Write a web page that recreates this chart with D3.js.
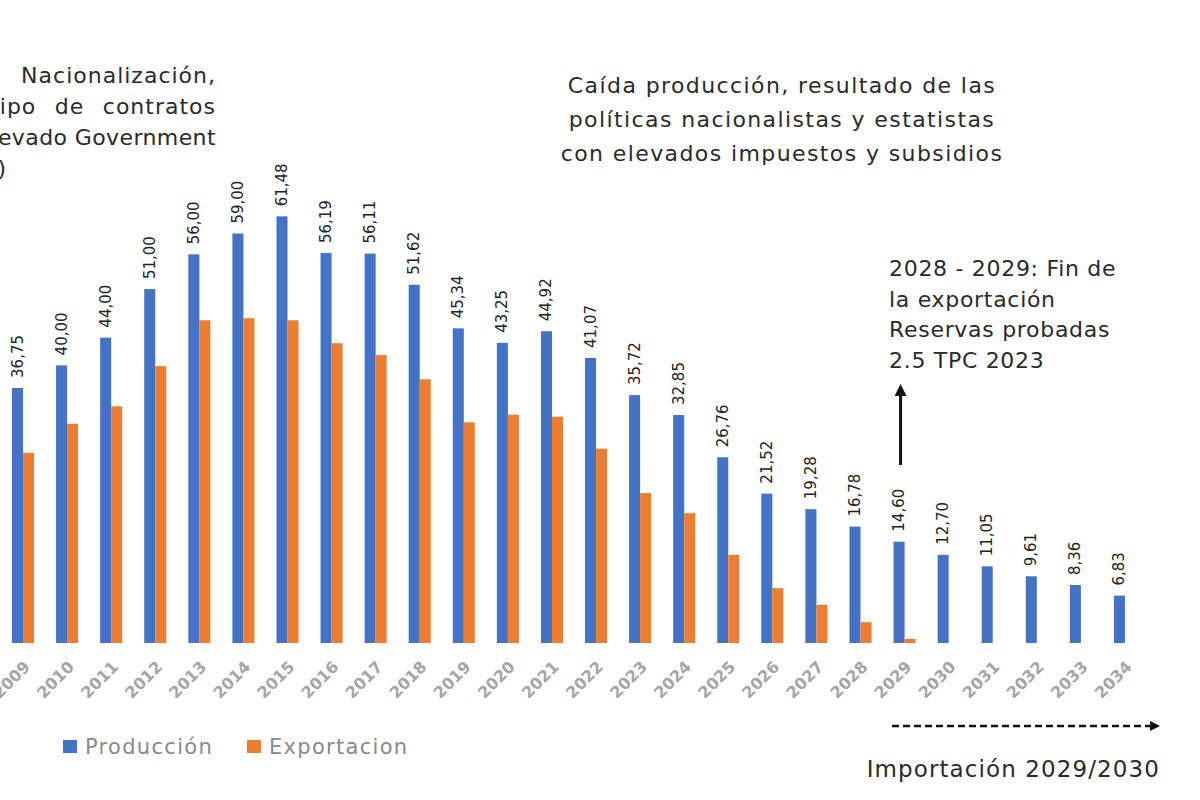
<!DOCTYPE html>
<html>
<head>
<meta charset="utf-8">
<script src="https://cdn.jsdelivr.net/npm/d3@7"></script>
<style>
  html, body { margin: 0; padding: 0; background: #fff; }
  svg { display: block; }
</style>
</head>
<body>
<svg id="chart" width="1200" height="800"></svg>
<script>
const years = ["2009","2010","2011","2012","2013","2014","2015","2016","2017","2018","2019","2020","2021","2022","2023","2024","2025","2026","2027","2028","2029","2030","2031","2032","2033","2034"];
const produccion = [36.75,40.00,44.00,51.00,56.00,59.00,61.48,56.19,56.11,51.62,45.34,43.25,44.92,41.07,35.72,32.85,26.76,21.52,19.28,16.78,14.60,12.70,11.05,9.61,8.36,6.83];
const exportacion = [27.4,31.6,34.1,39.9,46.5,46.8,46.5,43.2,41.5,38.0,31.8,32.9,32.6,28.0,21.6,18.7,12.7,7.9,5.5,3.0,0.6,0,0,0,0,0];
const seriesNames = ["Producción","Exportacion"];
const seriesColors = ["#4472C4","#ED7D31"];
const noteLeft = ["Nacionalización,","tipo de contratos","elevado Government",")"];
const noteLeftWordSpacing = [0, 10.5, 0, 0];
const noteLeftLetterSpacing = [1.0, 1.0, 0.4, 0];
const noteCenter = ["Caída producción, resultado de las","políticas nacionalistas y estatistas","con elevados impuestos y subsidios"];
const noteRight = ["2028 - 2029: Fin de","la exportación","Reservas probadas","2.5 TPC 2023"];
const noteImport = "Importación 2029/2030";

const svg = d3.select("#chart");
const font = "'DejaVu Sans', Verdana, sans-serif";
const baseY = 643;

const x0 = d3.scaleBand().domain(years).range([1, 1147]).paddingInner(0.5).paddingOuter(0.25);
const x1 = d3.scaleBand().domain([0,1]).range([0, x0.bandwidth()]);
const y = d3.scaleLinear().domain([0, 61.48]).range([baseY, baseY - 61.48*6.94]);

const data = years.map((yr,i) => ({year: yr, vals: [produccion[i], exportacion[i]]}));

const g = svg.append("g");
const groups = g.selectAll("g.cat").data(data).join("g")
  .attr("transform", d => `translate(${x0(d.year)},0)`);

groups.selectAll("rect").data(d => d.vals.map((v,k)=>({v,k}))).join("rect")
  .attr("x", d => x1(d.k))
  .attr("width", x1.bandwidth())
  .attr("y", d => y(d.v))
  .attr("height", d => baseY - y(d.v))
  .attr("fill", d => seriesColors[d.k]);

// value labels
groups.append("text")
  .attr("transform", d => `translate(${x1(0) + x1.bandwidth()/2 + 5},${y(d.vals[0]) - 10}) rotate(-90)`)
  .attr("font-family", font)
  .attr("font-size", 15)
  .attr("fill", "#222")
  .attr("text-anchor", "start")
  .text(d => d.vals[0].toFixed(2).replace(".", ","));

// x axis labels
const xAxis = d3.axisBottom(x0).tickSize(0).tickPadding(0);
const ax = svg.append("g").attr("transform", `translate(0,${baseY})`).call(xAxis);
ax.select(".domain").remove();
ax.selectAll(".tick text")
  .attr("font-family", font)
  .attr("font-size", 16)
  .attr("font-weight", "bold")
  .attr("fill", "#a5a5a5")
  .attr("text-anchor", "end")
  .attr("dy", "0")
  .attr("y", 0)
  .attr("transform", "translate(8,25) rotate(-45)");

// legend
const leg = svg.append("g").attr("transform", "translate(63,740)");
const legX = [0, 184];
seriesNames.forEach((n,i) => {
  leg.append("rect").attr("x", legX[i]).attr("y", 0).attr("width", 14).attr("height", 13).attr("fill", seriesColors[i]);
  leg.append("text").attr("x", legX[i] + 22).attr("y", 14)
    .attr("font-family", font).attr("font-size", 21).attr("fill", "#8a8a8a")
    .attr("letter-spacing", 1.3)
    .text(n);
});

// left note
noteLeft.forEach((t,i) => {
  svg.append("text")
    .attr("x", i === 3 ? 6 : 216).attr("y", 83 + i*31)
    .attr("text-anchor", "end")
    .attr("font-family", font).attr("font-size", 22)
    .attr("letter-spacing", noteLeftLetterSpacing[i])
    .attr("word-spacing", noteLeftWordSpacing[i])
    .attr("fill", "#2a2a2a")
    .text(t);
});

// center note
noteCenter.forEach((t,i) => {
  svg.append("text")
    .attr("x", 782).attr("y", 93 + i*34)
    .attr("text-anchor", "middle")
    .attr("font-family", font).attr("font-size", 22).attr("letter-spacing", 1.4).attr("fill", "#2a2a2a")
    .text(t);
});

// right note
noteRight.forEach((t,i) => {
  svg.append("text")
    .attr("x", 889).attr("y", 276 + i*30.5)
    .attr("font-family", font).attr("font-size", 22).attr("letter-spacing", 0.7).attr("fill", "#2a2a2a")
    .text(t);
});

// markers
const defs = svg.append("defs");
defs.append("marker").attr("id","arr").attr("viewBox","0 0 10 10").attr("refX",5).attr("refY",5)
  .attr("markerWidth",4).attr("markerHeight",4).attr("orient","auto-start-reverse")
  .append("path").attr("d","M0,0 L10,5 L0,10 z").attr("fill","#111");

const ax2029 = x0("2029") + x0.bandwidth()/2 - 4;
svg.append("line").attr("x1", ax2029).attr("x2", ax2029).attr("y1", 465).attr("y2", 390)
  .attr("stroke","#111").attr("stroke-width",3).attr("marker-end","url(#arr)");

svg.append("line").attr("x1", 892).attr("x2", 1155).attr("y1", 726).attr("y2", 726)
  .attr("stroke","#111").attr("stroke-width",2.5).attr("stroke-dasharray","7,4").attr("marker-end","url(#arr)");

svg.append("text").attr("x", 1160).attr("y", 777).attr("text-anchor","end")
  .attr("font-family", font).attr("font-size", 23).attr("letter-spacing", 1.1).attr("fill", "#2a2a2a")
  .text(noteImport);
</script>
</body>
</html>
